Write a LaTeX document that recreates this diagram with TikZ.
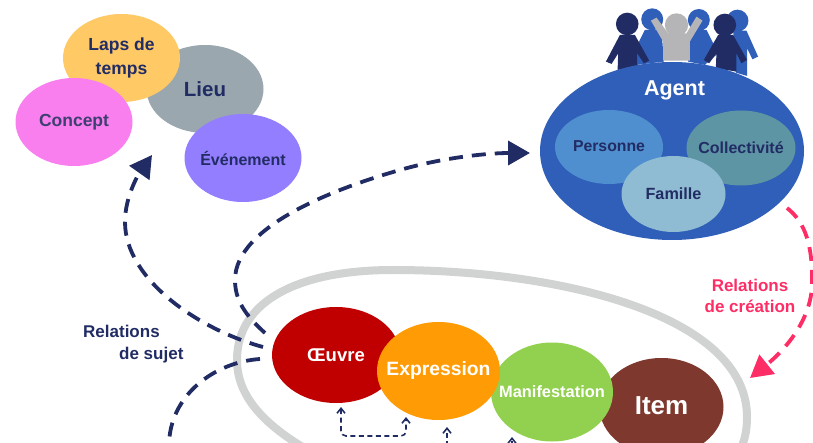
\documentclass[tikz,border=0pt]{standalone}
\usepackage{fontspec}
\setmainfont{Liberation Sans}
\usetikzlibrary{shapes.geometric,arrows.meta}
\definecolor{navy}{HTML}{222C64}
\definecolor{softnavy}{HTML}{3D3F70}
\definecolor{rose}{HTML}{FF2D65}
\definecolor{loopgrey}{HTML}{D0D3D2}
\definecolor{midblue}{HTML}{2F5FB8}
\definecolor{lapsc}{HTML}{FFC966}
\definecolor{lieuc}{HTML}{9AA7AE}
\definecolor{conceptc}{HTML}{F97FEF}
\definecolor{eventc}{HTML}{937EFF}
\definecolor{persc}{HTML}{4F8FCF}
\definecolor{collc}{HTML}{5D95A5}
\definecolor{famc}{HTML}{8FBCD2}
\definecolor{oeuvc}{HTML}{C00000}
\definecolor{exprc}{HTML}{FF9B05}
\definecolor{manic}{HTML}{92D050}
\definecolor{itemc}{HTML}{7F382E}
\definecolor{greyman}{HTML}{B5B5B8}
\newcommand{\fz}[1]{\fontsize{#1}{#1}\selectfont\bfseries}
\tikzset{
  blob/.style={ellipse,inner sep=-30pt,align=center,text=navy,minimum width=117pt,minimum height=88pt},
  tag/.style={inner sep=0pt,align=center},
  bigdash/.style={line width=3.8pt,dash pattern=on 14pt off 9pt},
  navyarrow/.style={bigdash,draw=navy,-{Triangle[length=22pt,width=24pt,fill=navy]}},
  rosearrow/.style={bigdash,draw=rose,-{Triangle[length=22pt,width=24pt,fill=rose]}},
  smallarrow/.style={draw=navy,line width=1.6pt,dash pattern=on 5pt off 3.5pt,{Straight Barb[length=5pt,width=8pt]}-{Straight Barb[length=5pt,width=8pt]}},
  smallup/.style={draw=navy,line width=1.6pt,dash pattern=on 5pt off 3.5pt,-{Straight Barb[length=5pt,width=8pt]}},
  loopline/.style={draw=loopgrey,line width=8pt},
}
\begin{document}
\begin{tikzpicture}[x=1pt,y=-1pt]
\useasboundingbox (0,0) rectangle (813,443);
\clip (0,0) rectangle (813,443);
% top-left cluster
\node[blob,fill=lieuc] (lieu) at (205,89) {\raisebox{-1pt}{\fz{20.5}Lieu}};
\node[blob,fill=lapsc] (laps) at (121.5,58) {\fz{17.5}Laps de\\[7pt]\fz{17.5}temps};
\node[blob,fill=conceptc,text=softnavy] (concept) at (74,122) {\raisebox{-2pt}{\fz{17.5}Concept}};
\node[blob,fill=eventc] (event) at (243,158) {\raisebox{-1pt}{\fz{16}Événement}};
% people
\begin{scope}[shift={(520,0)},x=0.333pt,y=-0.333pt]
  \fill[midblue] (397,58) circle[radius=33];
  \fill[midblue] (537,60) circle[radius=33];
  \fill[midblue] (653,62) circle[radius=33];
  \fill[midblue] (375,90) -- (425,90) -- (432,185) -- (350,195) -- (350,140) -- cycle;
  \fill[midblue] (510,90) -- (560,90) -- (595,160) -- (555,195) -- (505,185) -- cycle;
  \fill[midblue] (640,92) -- (680,92) -- (715,170) -- (698,178) -- (682,145) -- (682,228) -- (648,218) -- cycle;
  \fill[greyman] (470,75) circle[radius=35];
  \fill[greyman] (393,62) -- (410,53) -- (445,100) -- (500,100) -- (530,50) -- (548,62) -- (510,125) -- (510,182) -- (430,182) -- (430,125) -- cycle;
  \fill[navy] (322,72) circle[radius=34];
  \fill[navy] (615,75) circle[radius=34];
  \fill[navy] (258,185) -- (275,192) -- (295,160) -- (293,210) -- (352,200) -- (352,160) -- (372,190) -- (388,182) -- (345,105) -- (300,105) -- cycle;
  \fill[navy] (640,105) -- (595,105) -- (552,180) -- (568,190) -- (590,160) -- (588,205) -- (650,215) -- (650,160) -- (665,190) -- (682,180) -- cycle;
\end{scope}
% agent
\node[blob,fill=midblue,minimum width=264pt,minimum height=178pt] (agent) at (672,151) {};
\node[tag,text=white] (agentlabel) at (674.5,90) {\fz{21.5}Agent};
\node[blob,fill=persc,minimum width=108pt,minimum height=74pt] (pers) at (609,147) {\raisebox{1.5pt}{\fz{15.8}Personne}};
\node[blob,fill=collc,minimum width=109pt,minimum height=75pt] (coll) at (741,148) {\fz{16}Collectivité};
\node[blob,fill=famc,minimum width=104pt,minimum height=76pt] (fam) at (673.5,194) {\fz{16.2}Famille};
% grey loop
\draw[loopline] (320,457) .. controls (270,430) and (237,400) .. (237,360) .. controls (237,300) and (300,270) .. (393,270) .. controls (560,270) and (747,315) .. (747,417) .. controls (747,430) and (745,440) .. (740,450);
% work group
\node[blob,fill=oeuvc,minimum width=128pt,minimum height=96pt,text=white] (oeuvre) at (336,355) {\raisebox{-2pt}{\fz{18.5}Œuvre}};
\node[blob,fill=itemc,minimum width=124pt,minimum height=98pt,text=white] (item) at (661.5,407) {\raisebox{3pt}{\fz{26}Item}};
\node[blob,fill=manic,minimum width=122pt,minimum height=99pt,text=white] (mani) at (552,392) {\fz{16.4}Manifestation};
\node[blob,fill=exprc,minimum width=123pt,minimum height=98pt,text=white] (expr) at (438.5,371) {\fz{19.3}Expression};
% connector ends
\coordinate (subjstart) at (263,347);
\coordinate (subjend) at (152,155);
\coordinate (agstart) at (265,333);
\coordinate (agend) at (530,153);
\coordinate (lowstart) at (260,359);
\coordinate (lowend) at (169,446);
\coordinate (crstart) at (787,208);
\coordinate (crend) at (750,378);
\coordinate (oeuvtip) at (341,407);
\coordinate (exprtip) at (406,417);
\coordinate (exprup) at (447,427);
\coordinate (exprdown) at (447,446);
\coordinate (maniup) at (512,437);
\coordinate (manidown) at (512,446);
% connectors
\draw[navyarrow] (subjstart) .. controls (200,330) and (125,280) .. (125,222) .. controls (125,195) and (140,172) .. (subjend);
\draw[navyarrow] (agstart) .. controls (245,315) and (235,300) .. (235,280) .. controls (235,225) and (340,187) .. (400,170) .. controls (445,157) and (490,153) .. (agend);
\draw[bigdash,draw=navy] (lowstart) .. controls (215,362) and (169,395) .. (lowend);
\draw[rosearrow] (crstart) .. controls (805,222) and (813,245) .. (812,285) .. controls (811,320) and (785,350) .. (crend);
\draw[smallarrow,rounded corners=5pt] (oeuvtip) -- (341,436) -- (406,436) -- (exprtip);
\draw[smallup] (exprdown) -- (exprup);
\draw[smallup] (manidown) -- (maniup);
% labels
\node[tag,text=navy,align=left,anchor=north west] (sujet) at (83,325) {\fz{17}Relations\\[8pt]\hspace*{36pt}\fz{17}de sujet};
\node[tag,text=rose] (creation) at (750,296) {\fz{17}Relations\\[8pt]\fz{17}de création};
\end{tikzpicture}
\end{document}
